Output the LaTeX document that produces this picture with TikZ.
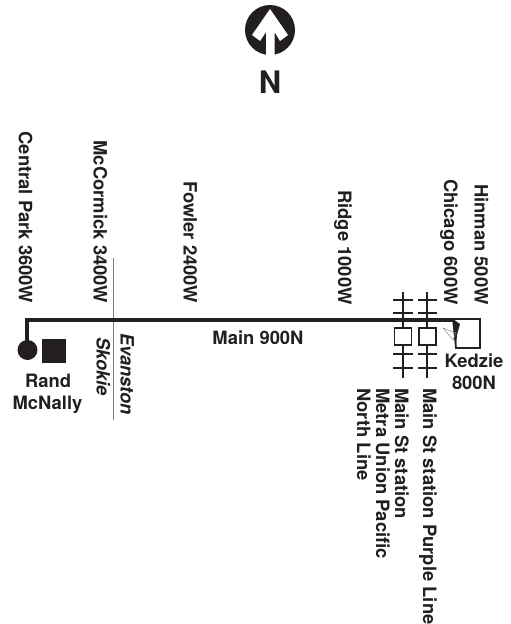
\documentclass[tikz,border=0pt]{standalone}
\usepackage{fontspec}
\setmainfont{TeX Gyre Heros}
\definecolor{ink}{HTML}{231F20}
\tikzset{
 lab/.style={font=\fontsize{18.4}{21}\selectfont\bfseries,text=ink,inner sep=0pt},
 rot/.style={lab,rotate=-90,anchor=base west},
 rote/.style={lab,rotate=-90,anchor=base east},
 itl/.style={rot,font=\fontsize{18.4}{21}\selectfont\bfseries\itshape},
 road/.style={draw=ink,line width=4pt},
 track/.style={draw=ink,line width=1.7pt},
 station/.style={draw=ink,fill=white,line width=1.7pt,minimum size=17pt,inner sep=0pt},
}
\begin{document}
\begin{tikzpicture}[x=1pt,y=-1pt]
\useasboundingbox (0,0) rectangle (511,624);
% north sign
\node[circle,fill=ink,minimum size=50pt,inner sep=0pt] (compass) at (270,30) {};
\fill[white] (270,9) -- (288,35) -- (280,41) -- (274.5,32) -- (274.5,56) -- (266,56) -- (266,32) -- (260,41) -- (252,35) -- cycle;
\node[lab,font=\fontsize{31}{34}\selectfont\bfseries] (north) at (270,82) {N};
% street labels
\node[rote] (central) at (19,303.5) {Central Park 3600W};
\node[rote] (mccormick) at (93.5,303.5) {McCormick 3400W};
\node[rote] (fowler) at (183.5,303.5) {Fowler 2400W};
\node[rote] (ridge) at (338,305) {Ridge 1000W};
\node[rote] (chicago) at (444,305) {Chicago 600W};
\node[rote] (hinman) at (474.5,305) {Hinman 500W};
% boundary
\coordinate (bt) at (113,258);
\coordinate (bb) at (113,420);
\draw[draw=ink!60,line width=0.9pt] (bt) -- (bb);
\node[itl] (evanston) at (120.5,333) {Evanston};
\node[itl] (skokie) at (96.5,337) {Skokie};
% tracks
\coordinate (t1a) at (403,292); \coordinate (t1b) at (403,378);
\coordinate (t2a) at (427,292); \coordinate (t2b) at (427,378);
\draw[track] (t1a) -- (t1b);
\draw[track] (t2a) -- (t2b);
\foreach \y in {300,313,354,368}{
  \draw[track] (393,\y) -- (413,\y);
  \draw[track] (418,\y) -- (437,\y);
}
% road
\coordinate (r0) at (27,349);
\coordinate (r1) at (27,320);
\coordinate (r2) at (455,320);
\draw[road] (r0) -- (r1) -- (r2);
\node[station] (s1) at (403,336.5) {};
\node[station] (s2) at (427.5,336.5) {};
% Kedzie
\draw[ink,line width=1.7pt,line join=miter] (453,319) -- (480,319) -- (480,348) -- (456,348) -- cycle;
\fill[ink] (453,319) -- (460,324) -- (457,335) -- (456,347) -- (454,332) -- cycle;
\draw[ink!55,line width=0.5pt] (443,328) -- (456,333) -- (453,340) -- cycle;
\node[lab] (kedzie) at (474,361) {Kedzie};
\node[lab] (k800) at (474,383) {800N};
% start
\node[circle,fill=ink,minimum size=20pt,inner sep=0pt] (start) at (27.5,350) {};
\node[fill=ink,minimum size=24pt,inner sep=0pt] (rand) at (54,351) {};
\node[lab] (randt) at (48,381) {Rand};
\node[lab] (mcn) at (47.5,405) {McNally};
\node[lab] (main) at (258,338) {Main 900N};
% station labels
\node[rot] (purple) at (423,388) {Main St station Purple Line};
\node[rot] (st) at (395,388) {Main St station};
\node[rot] (metra) at (376,388) {Metra Union Pacific};
\node[rot] (nl) at (357,388) {North Line};
\end{tikzpicture}
\end{document}
